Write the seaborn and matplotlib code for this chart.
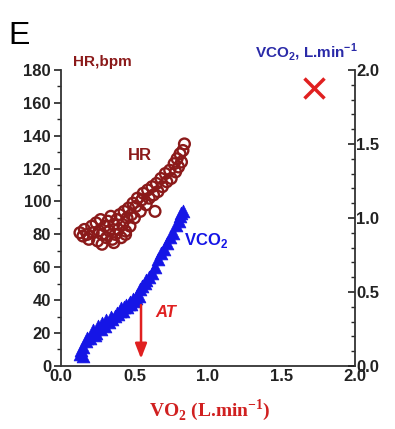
import matplotlib
matplotlib.use("Agg")
import matplotlib.pyplot as plt
import seaborn as sns
import pandas as pd
from matplotlib.ticker import MultipleLocator, FormatStrFormatter

# HR data (VO2, HR)
hr_vo2 = [0.13, 0.15, 0.16, 0.18, 0.19, 0.21, 0.22, 0.24, 0.25, 0.26, 0.27, 0.28, 0.30, 0.31,
          0.32, 0.33, 0.34, 0.35, 0.36, 0.37, 0.38, 0.39, 0.40, 0.41, 0.42, 0.43, 0.44, 0.45,
          0.46, 0.47, 0.48, 0.49, 0.50, 0.51, 0.52, 0.54, 0.55, 0.56, 0.58, 0.59, 0.60, 0.62,
          0.63, 0.65, 0.66, 0.68, 0.69, 0.71, 0.72, 0.74, 0.75, 0.77, 0.78, 0.79, 0.80, 0.81,
          0.82, 0.83, 0.84, 0.64, 0.28, 0.36, 0.44]
hr_bpm = [81, 79, 83, 80, 77, 85, 81, 87, 76, 82, 89, 80, 85, 78,
          88, 82, 91, 77, 86, 80, 89, 83, 92, 78, 86, 94, 82, 90,
          96, 85, 92, 99, 90, 97, 102, 94, 101, 105, 98, 107, 102, 109,
          104, 111, 106, 114, 109, 117, 112, 119, 114, 123, 118, 126, 121, 129,
          124, 131, 135, 94, 74, 75, 80]

# VCO2 data (VO2, VCO2)
vco2_vo2 = [0.13, 0.14, 0.15, 0.17, 0.18, 0.20, 0.22, 0.24, 0.25, 0.27, 0.28, 0.30, 0.31,
            0.33, 0.34, 0.35, 0.37, 0.38, 0.39, 0.40, 0.41, 0.42, 0.43, 0.44, 0.45, 0.46,
            0.47, 0.48, 0.49, 0.50, 0.51, 0.52, 0.53, 0.54, 0.55, 0.57, 0.58, 0.60, 0.62,
            0.64, 0.66, 0.68, 0.70, 0.72, 0.74, 0.76, 0.78, 0.80, 0.81, 0.82, 0.83, 0.15, 0.23]
vco2_l = [0.08, 0.11, 0.13, 0.17, 0.19, 0.19, 0.24, 0.22, 0.27, 0.25, 0.29, 0.27, 0.31,
          0.30, 0.33, 0.32, 0.34, 0.36, 0.35, 0.37, 0.39, 0.37, 0.40, 0.41, 0.40, 0.42,
          0.43, 0.42, 0.45, 0.44, 0.46, 0.48, 0.47, 0.52, 0.54, 0.56, 0.58, 0.60, 0.63,
          0.67, 0.72, 0.76, 0.79, 0.83, 0.87, 0.90, 0.95, 0.98, 1.01, 1.03, 1.05, 0.07, 0.21]

hr_df = pd.DataFrame({"VO2": hr_vo2, "HR": hr_bpm})
vco2_df = pd.DataFrame({"VO2": vco2_vo2, "VCO2": vco2_l})

sns.set_style("white")
plt.rcParams["mathtext.fontset"] = "custom"
fig = plt.figure(figsize=(3.95, 4.29), dpi=100)
ax = fig.add_axes([0.154, 0.147, 0.745, 0.69])
ax2 = ax.twinx()

dark_red = "#8b1a1a"
blue = "#1515e6"
red = "#e02020"

sns.scatterplot(data=hr_df, x="VO2", y="HR", ax=ax, marker="o", s=60,
                facecolor="none", edgecolor=dark_red, linewidth=1.7, zorder=3)
sns.scatterplot(data=vco2_df, x="VO2", y="VCO2", ax=ax2, marker="^", s=85,
                color=blue, edgecolor=blue, linewidth=0.5, zorder=3)

ax.set_xlim(0, 2.0)
ax.set_ylim(0, 180)
ax2.set_ylim(0, 2.0)
ax.set_xlabel("")
ax.set_ylabel("")
ax2.set_ylabel("")

ax.xaxis.set_major_locator(MultipleLocator(0.5))
ax.xaxis.set_minor_locator(MultipleLocator(0.1))
ax.yaxis.set_major_locator(MultipleLocator(20))
ax.yaxis.set_minor_locator(MultipleLocator(10))
ax2.yaxis.set_major_locator(MultipleLocator(0.5))
ax2.yaxis.set_minor_locator(MultipleLocator(0.1))
ax.xaxis.set_major_formatter(FormatStrFormatter("%.1f"))
ax2.yaxis.set_major_formatter(FormatStrFormatter("%.1f"))

for a in (ax, ax2):
    a.spines["top"].set_visible(False)
    for s in a.spines.values():
        s.set_linewidth(1.3)
        s.set_color("#333333")
ax.spines["right"].set_visible(False)
ax2.spines["left"].set_visible(False)
ax2.spines["bottom"].set_visible(False)

ax.tick_params(axis="x", which="major", direction="in", length=5, width=1.2,
               labelsize=12, pad=2, colors="#222222")
ax.tick_params(axis="x", which="minor", direction="in", length=3, width=1)
ax.tick_params(axis="y", which="major", direction="out", length=5, width=1.2,
               labelsize=12, pad=2, colors="#222222", left=True)
ax.tick_params(axis="y", which="minor", direction="out", length=3, width=1, left=True)
ax2.tick_params(axis="y", which="major", direction="in", length=5, width=1.2,
                labelsize=12, pad=1, colors="#222222", right=True)
ax2.tick_params(axis="y", which="minor", direction="in", length=3, width=1, right=True)
for lab in ax.get_xticklabels() + ax.get_yticklabels() + ax2.get_yticklabels():
    lab.set_fontweight("bold")
    lab.set_family("Liberation Sans")

# annotations
ax.text(0.54, 128, "HR", color=dark_red, fontsize=12, fontweight="bold",
        family="Liberation Sans", ha="center", va="center")
ax2.text(0.84, 0.85, "VCO$_\\mathregular{2}$", color=blue, fontsize=12, fontweight="bold",
         family="Liberation Sans", ha="left", va="center")
ax2.text(0.64, 0.36, "AT", color=red, fontsize=12, fontweight="bold", style="italic",
         family="Liberation Sans", ha="left", va="center")
ax2.annotate("", xy=(0.545, 0.03), xytext=(0.545, 0.43),
             arrowprops=dict(arrowstyle="-|>,head_width=0.35,head_length=0.9",
                             color=red, lw=1.8))
ax2.plot([1.72], [1.88], marker="x", color=red, markersize=14, mew=2.5, linestyle="none")

fig.text(0.185, 0.855, "HR,bpm", color=dark_red, fontsize=11, fontweight="bold",
         family="Liberation Sans", ha="left", va="center")
fig.text(0.905, 0.878, "VCO$_\\mathregular{2}$, L.min$^\\mathregular{-1}$", color="#2a2aa8",
         fontsize=11, fontweight="bold", family="Liberation Sans", ha="right", va="center")
fig.text(0.02, 0.915, "E", color="black", fontsize=23, family="Liberation Sans",
         ha="left", va="center")
fig.text(0.53, 0.045, "VO$_\\mathregular{2}$ (L.min$^\\mathregular{-1}$)", color="#d02020",
         fontsize=14, fontweight="bold", family="Liberation Serif", ha="center", va="center")

fig.savefig("out.png", dpi=100)
